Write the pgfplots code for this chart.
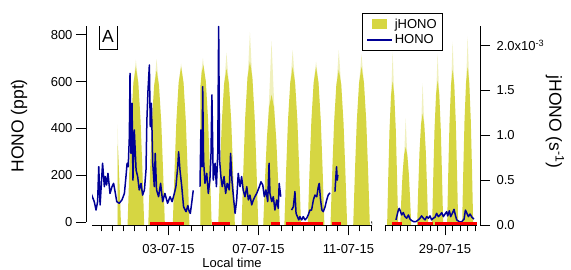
\documentclass[border=0pt]{standalone}
\usepackage{fontspec}
\setmainfont{Liberation Sans}
\usepackage{pgfplots}
\pgfplotsset{compat=1.18}
\definecolor{jcol}{RGB}{214,214,66}
\definecolor{jlight}{RGB}{240,240,190}
\definecolor{hcol}{RGB}{0,0,150}
\definecolor{rcol}{RGB}{255,0,0}
\newcommand{\tickfont}{\fontsize{13}{15}\selectfont}
\newcommand{\labfont}{\fontsize{17.5}{20}\selectfont}
\pgfplotsset{
  seg1box/.style={scale only axis, anchor=south west, at={(92pt,43.7pt)}, width=280.1pt, height=199.3pt, xmin=-0.4, xmax=12.05},
  seg2box/.style={scale only axis, anchor=south west, at={(385pt,43.7pt)}, width=92pt, height=199.3pt, xmin=0, xmax=6.133},
  jy/.style={ymin=0, ymax=2.2144},
  hy/.style={ymin=-14.1, ymax=837.2},
  xaxstyle/.style={axis x line*=bottom, axis y line=none, x axis line style={-, line width=0.9pt},
    xtick align=outside, major tick length=10pt, minor tick length=6pt,
    tick style={black, line width=0.9pt}, xticklabel style={font=\tickfont, yshift=-6pt},
    /pgf/number format/assume math mode=true},
}
\begin{document}
\begin{tikzpicture}
% ---------- jHONO segment 1 ----------
\begin{axis}[seg1box, jy, hide axis]
\addplot[fill=jlight, draw=none] coordinates {
(0.74,0)(0.74,1.12)(0.77,0.8)(0.80,0)
(1.45,0)(1.45,1.60)(1.55,1.84)(1.65,1.60)(1.65,0)
(2.37,0)(2.37,1.56)(2.47,1.85)(2.57,1.56)(2.57,0)
(3.46,0)(3.46,1.60)(3.56,1.80)(3.66,1.60)(3.66,0)
(4.45,0)(4.45,1.68)(4.53,1.86)(4.63,1.62)(4.63,0)
(5.48,0)(5.48,1.58)(5.58,1.92)(5.68,1.58)(5.68,0)
(6.52,0)(6.52,1.65)(6.62,2.15)(6.72,1.65)(6.72,0)
(7.42,0)(7.42,1.10)(7.58,2.05)(7.74,1.10)(7.74,0)
(8.42,0)(8.42,1.60)(8.52,1.95)(8.62,1.60)(8.62,0)
(9.46,0)(9.46,1.60)(9.56,1.82)(9.66,1.60)(9.66,0)
(10.47,0)(10.47,1.57)(10.57,1.95)(10.67,1.57)(10.67,0)
(11.48,0)(11.48,1.60)(11.58,1.90)(11.68,1.60)(11.68,0)
};
\addplot[fill=jcol, draw=none] coordinates {
(0.74,0)(0.74,0.9)(0.78,0.72)(0.84,0.35)(0.89,0)
(1.18,0)(1.26,0.62)(1.34,1.16)(1.44,1.58)(1.55,1.76)(1.66,1.58)(1.76,1.16)(1.84,0.62)(1.92,0)
(2.10,0)(2.18,0.60)(2.26,1.14)(2.36,1.55)(2.47,1.72)(2.58,1.55)(2.68,1.14)(2.76,0.60)(2.84,0)
(3.19,0)(3.27,0.62)(3.35,1.16)(3.45,1.58)(3.56,1.76)(3.67,1.58)(3.77,1.16)(3.85,0.62)(3.93,0)
(4.42,0)(4.42,1.55)(4.48,1.70)(4.55,1.78)(4.66,1.60)(4.76,1.17)(4.84,0.62)(4.92,0)
(5.21,0)(5.29,0.61)(5.37,1.15)(5.47,1.57)(5.58,1.74)(5.69,1.57)(5.79,1.15)(5.87,0.61)(5.95,0)
(6.25,0)(6.33,0.64)(6.41,1.20)(6.51,1.64)(6.62,1.82)(6.73,1.64)(6.83,1.20)(6.91,0.64)(6.99,0)
(7.21,0)(7.29,0.51)(7.37,0.96)(7.47,1.31)(7.58,1.45)(7.69,1.31)(7.79,0.96)(7.87,0.51)(7.95,0)
(8.15,0)(8.23,0.62)(8.31,1.16)(8.41,1.58)(8.52,1.76)(8.63,1.58)(8.73,1.16)(8.81,0.62)(8.89,0)
(9.19,0)(9.27,0.62)(9.35,1.16)(9.45,1.58)(9.56,1.76)(9.67,1.58)(9.77,1.16)(9.85,0.62)(9.93,0)
(10.20,0)(10.28,0.61)(10.36,1.14)(10.46,1.56)(10.57,1.73)(10.68,1.56)(10.78,1.14)(10.86,0.61)(10.94,0)
(11.21,0)(11.29,0.62)(11.37,1.16)(11.47,1.58)(11.58,1.76)(11.69,1.58)(11.79,1.16)(11.87,0.62)(11.95,0)
};
\end{axis}
% ---------- jHONO segment 2 ----------
\begin{axis}[seg2box, jy, hide axis]
\addplot[fill=jlight, draw=none] coordinates {
(0.41,0)(0.41,1.45)(0.51,1.93)(0.61,1.45)(0.61,0)
(1.28,0)(1.28,0.79)(1.38,1.19)(1.48,0.79)(1.48,0)
(2.41,0)(2.41,1.13)(2.51,1.58)(2.61,1.13)(2.61,0)
(3.41,0)(3.41,1.46)(3.51,1.91)(3.61,1.46)(3.61,0)
(4.41,0)(4.41,1.57)(4.51,2.04)(4.61,1.57)(4.61,0)
(5.41,0)(5.41,1.60)(5.51,2.10)(5.61,1.60)(5.61,0)
};
\addplot[fill=jcol, draw=none] coordinates {
(0.14,0)(0.22,0.56)(0.30,1.06)(0.40,1.44)(0.51,1.60)(0.62,1.44)(0.72,1.06)(0.80,0.56)(0.88,0)
(1.01,0)(1.09,0.30)(1.17,0.57)(1.27,0.78)(1.38,0.87)(1.49,0.78)(1.59,0.57)(1.67,0.30)(1.75,0)
(2.14,0)(2.22,0.43)(2.30,0.82)(2.40,1.12)(2.51,1.24)(2.62,1.12)(2.72,0.82)(2.80,0.43)(2.88,0)
(3.14,0)(3.22,0.56)(3.30,1.06)(3.40,1.45)(3.51,1.61)(3.62,1.45)(3.72,1.06)(3.80,0.56)(3.88,0)
(4.14,0)(4.22,0.61)(4.30,1.14)(4.40,1.56)(4.51,1.73)(4.62,1.56)(4.72,1.14)(4.80,0.61)(4.88,0)
(5.14,0)(5.22,0.62)(5.30,1.16)(5.40,1.58)(5.51,1.76)(5.62,1.58)(5.72,1.16)(5.80,0.62)(5.88,0)
};
\end{axis}
% ---------- HONO segment 1 ----------
\begin{axis}[seg1box, hy, xaxstyle,
  xtick={3,7,11}, xticklabels={03-07-15,07-07-15,11-07-15},
  minor xtick={0,0.5,...,12},
  xlabel={Local time}, xlabel style={at={(rel axis cs:0.5,-0.188)}, anchor=center, font=\tickfont}]
\addplot[hcol, line width=1.5pt, line join=round, unbounded coords=jump] coordinates {
(-0.44,122)(-0.30,87)(-0.22,51)(-0.15,87)(-0.10,236)(-0.04,73)(0.00,137)(0.07,251)(0.15,151)(0.19,194)
(0.25,158)(0.31,208)(0.40,122)(0.49,151)(0.56,165)(0.64,122)(0.70,87)(0.81,80)(0.93,94)(1.04,122)
(1.11,194)(1.16,251)(1.21,236)(1.26,364)(1.29,635)(1.33,293)(1.38,507)(1.42,179)(1.48,393)(1.56,222)
(1.63,194)(1.70,137)(1.78,165)(1.85,115)(1.93,137)(2.00,222)(2.04,436)(2.09,564)(2.15,671)(2.19,407)
(2.24,507)(2.30,251)(2.37,151)(2.41,293)(2.47,137)(2.56,108)(2.65,165)(2.74,87)(2.84,122)(2.96,80)
(3.07,108)(3.16,87)(3.26,122)(3.33,151)(3.41,236)(3.45,300)(3.51,222)(3.59,151)(3.67,65)(3.78,44)
(3.86,70)(3.92,45)(3.97,37)(4.03,80)(4.10,135)
(4.25,nan)
(4.40,151)(4.44,393)(4.49,236)(4.52,578)(4.56,265)(4.62,165)(4.70,208)(4.77,122)(4.84,179)(4.89,293)
(4.93,543)(4.99,179)(5.07,251)(5.13,151)(5.19,293)(5.23,835)(5.27,265)(5.33,194)(5.39,151)(5.47,194)
(5.54,122)(5.61,165)(5.70,137)(5.76,293)(5.82,179)(5.90,94)(5.96,37)(6.03,94)(6.10,208)(6.18,151)
(6.25,194)(6.32,137)(6.40,108)(6.48,151)(6.55,94)(6.62,115)(6.70,73)(6.77,94)(6.85,110)(6.92,122)
(7.04,151)(7.11,172)(7.19,158)(7.26,108)(7.33,137)(7.41,87)(7.47,251)(7.51,122)(7.59,87)(7.66,108)
(7.73,51)(7.81,94)(7.88,58)(7.92,165)(7.99,108)
(8.2,nan)
(8.47,51)(8.55,65)(8.62,130)(8.67,37)(8.73,23)(8.79,9)(8.84,23)(8.92,9)(8.99,23)(9.07,9)
(9.14,16)(9.21,30)(9.29,51)(9.36,51)(9.44,94)(9.51,115)(9.59,108)(9.66,151)(9.70,165)(9.76,94)
(9.82,51)(9.88,44)(9.96,65)(10.03,94)(10.10,115)(10.18,125)
(10.3,nan)
(10.40,130)(10.44,194)(10.47,236)(10.50,179)(10.53,201)
};
\addplot[rcol, line width=3pt, unbounded coords=jump] coordinates {
(2.18,-4.3)(3.69,-4.3)(3.8,nan)(4.92,-4.3)(5.73,-4.3)(6,nan)(7.54,-4.3)(7.96,-4.3)(8.1,nan)
(8.22,-4.3)(9.88,-4.3)(10,nan)(10.25,-4.3)(10.67,-4.3)};
\draw[line width=0.9pt] ([xshift=-0.6pt,yshift=3.8pt]rel axis cs:1,0) -- ([xshift=2.9pt,yshift=-6.2pt]rel axis cs:1,0);
\end{axis}
% ---------- HONO segment 2 ----------
\begin{axis}[seg2box, hy, xaxstyle,
  xtick={4}, xticklabels={29-07-15},
  minor xtick={0,0.5,...,6}]
\addplot[hcol, line width=1.5pt, line join=round] coordinates {
(0.73,9)(0.89,51)(0.95,58)(1.04,44)(1.11,30)(1.22,40)(1.33,23)(1.44,16)(1.56,30)(1.67,12)
(1.78,6)(1.93,1)(2.07,2)(2.22,9)(2.33,16)(2.44,26)(2.56,16)(2.67,9)(2.78,23)(2.89,16)
(3.00,26)(3.11,9)(3.22,16)(3.33,20)(3.44,37)(3.56,23)(3.67,30)(3.78,40)(3.89,23)(4.00,34)
(4.11,44)(4.18,26)(4.29,48)(4.38,23)(4.49,37)(4.60,54)(4.69,30)(4.78,9)(4.96,1)(5.11,1)
(5.27,12)(5.36,51)(5.44,40)(5.56,23)(5.67,34)(5.80,20)(5.93,12)
};
\addplot[rcol, line width=3pt, unbounded coords=jump] coordinates {
(0.45,-4.3)(1.11,-4.3)(1.5,nan)(2.18,-4.3)(3.18,-4.3)(3.25,nan)(3.33,-4.3)(6.11,-4.3)};
\draw[line width=0.9pt] ([xshift=-1.5pt,yshift=4.3pt]rel axis cs:0,0) -- ([xshift=1.5pt,yshift=-6.7pt]rel axis cs:0,0);
\end{axis}
% ---------- left axis frame ----------
\begin{axis}[scale only axis, anchor=south west, at={(86pt,47pt)}, width=394pt, height=196pt,
  xmin=0, xmax=1, ymin=0, ymax=837.2,
  axis x line=none, axis y line*=left, y axis line style={-, line width=0.9pt},
  ytick={0,200,400,600,800}, ytick align=outside, major tick length=10pt,
  tick style={black, line width=0.9pt},
  yticklabel style={font=\tickfont}, /pgf/number format/assume math mode=true,
  ylabel={HONO (ppt)},
  every axis y label/.style={at={(rel axis cs:-0.1701,0.49)}, rotate=90, anchor=center, font=\labfont}]
\node[draw, line width=0.9pt, minimum width=18pt, minimum height=25.7pt, inner sep=0pt, font=\labfont]
  at (rel axis cs:0.0558,0.948) {A};
\end{axis}
% ---------- right axis frame ----------
\begin{axis}[scale only axis, anchor=south west, at={(86pt,43.7pt)}, width=394pt, height=199.3pt,
  xmin=0, xmax=1, ymin=0, ymax=2.2144,
  axis x line=none, axis y line*=right, y axis line style={-, line width=0.9pt},
  ytick={0,0.5,1,1.5,2}, yticklabels={0.0,0.5,1.0,1.5,{2.0x10\textsuperscript{-3}}},
  ytick align=outside, major tick length=10pt,
  tick style={black, line width=0.9pt},
  yticklabel style={font=\tickfont, anchor=west, xshift=3pt},
  ylabel={jHONO (s\textsuperscript{-1})},
  every axis y label/.style={at={(rel axis cs:1.19,0.518)}, rotate=-90, anchor=center, font=\labfont},
  legend style={at={(rel axis cs:0.7005,1.067)}, anchor=north west, draw=black, line width=1pt,
    fill=white, font=\tickfont, inner xsep=4pt, inner ysep=3.5pt, row sep=1pt},
  legend cell align=left]
\addlegendimage{area legend, legend image code/.code={\fill[jcol] (5.5pt,-4.5pt) rectangle (19.5pt,4.5pt);}}
\addlegendentry{jHONO}
\addlegendimage{legend image code/.code={\draw[hcol, line width=1.3pt] (0pt,0pt) -- (25pt,0pt);}}
\addlegendentry{HONO}
\end{axis}
\pgfresetboundingbox
\path (0,0) rectangle (571pt,269pt);
\end{tikzpicture}
\end{document}
